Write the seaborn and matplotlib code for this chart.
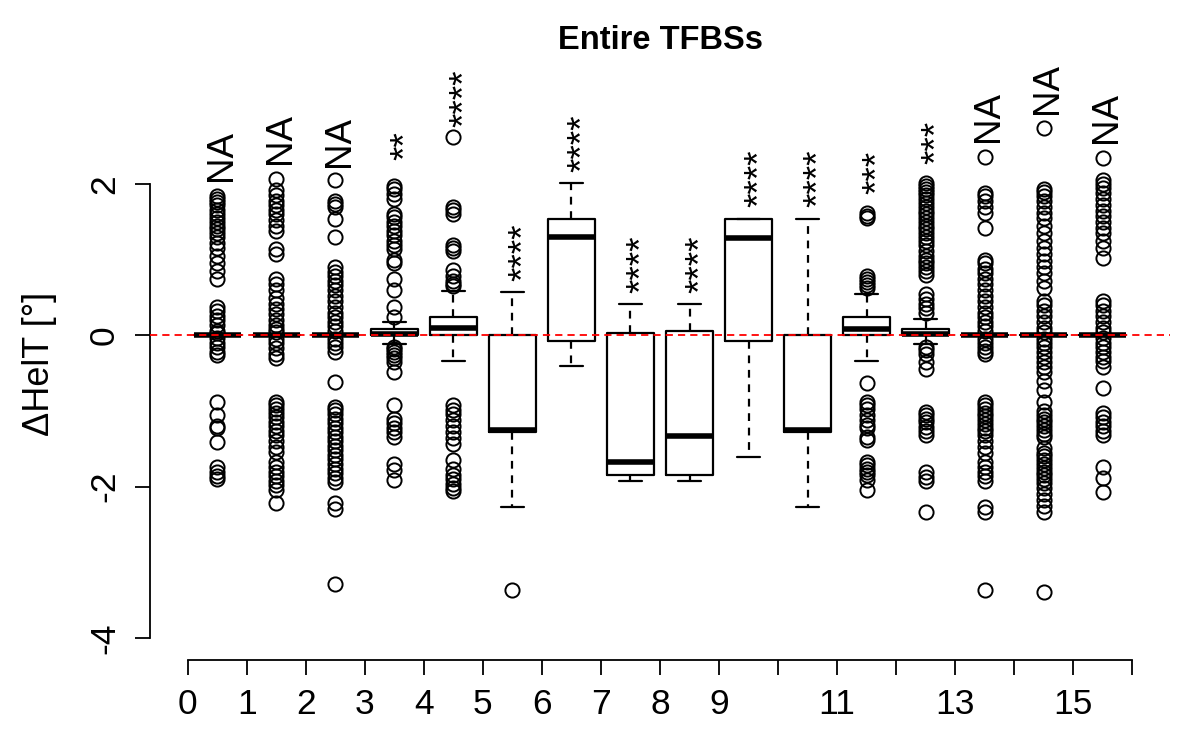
import numpy as np
import pandas as pd
import matplotlib
matplotlib.use("Agg")
import matplotlib.pyplot as plt
import seaborn as sns

# ---------------- data ----------------
groups = list(range(16))

q1     = [0, 0, 0, 0.00, 0.00, -1.28, -0.07, -1.84, -1.84, -0.07, -1.28, 0.00, 0.00, 0, 0, 0]
med    = [0, 0, 0, 0.02, 0.10, -1.25,  1.30, -1.67, -1.33,  1.29, -1.25, 0.08, 0.02, 0, 0, 0]
q3     = [0, 0, 0, 0.09, 0.24,  0.00,  1.54,  0.03,  0.06,  1.54,  0.00, 0.24, 0.09, 0, 0, 0]
whislo = [0, 0, 0, -0.12, -0.335, -2.27, -0.41, -1.92, -1.92, -1.61, -2.27, -0.34, -0.12, 0, 0, 0]
whishi = [0, 0, 0, 0.18, 0.59, 0.57, 2.02, 0.41, 0.41, 1.54, 1.54, 0.55, 0.22, 0, 0, 0]

out_hi = [
    [1.84, 1.80, 1.76, 1.72, 1.66, 1.60, 1.55, 1.50, 1.45, 1.40, 1.35, 1.30, 1.22, 1.15, 1.05,
     0.95, 0.85, 0.75, 0.38, 0.32, 0.26, 0.20, 0.14, 0.06, 0.03],
    [2.07, 1.92, 1.86, 1.78, 1.72, 1.66, 1.60, 1.52, 1.45, 1.38, 1.14, 1.08, 0.74, 0.68, 0.60,
     0.50, 0.42, 0.35, 0.28, 0.20, 0.14, 0.08, 0.04],
    [2.05, 1.78, 1.74, 1.70, 1.54, 1.30, 0.90, 0.84, 0.78, 0.72, 0.66, 0.60, 0.52, 0.45, 0.38,
     0.30, 0.24, 0.18, 0.12, 0.06],
    [1.98, 1.93, 1.87, 1.80, 1.60, 1.56, 1.50, 1.45, 1.38, 1.32, 1.25, 1.20, 1.14, 1.00, 0.95,
     0.75, 0.60, 0.38, 0.24],
    [0.65, 0.68, 0.72, 0.78, 0.86, 1.12, 1.15, 1.19, 1.61, 1.66, 1.70, 2.62],
    [],
    [],
    [],
    [],
    [],
    [],
    [0.62, 0.66, 0.70, 0.74, 0.78, 1.55, 1.58, 1.62],
    [0.30, 0.36, 0.42, 0.48, 0.55, 0.80, 0.85, 0.90, 0.95, 1.00, 1.05, 1.12, 1.20, 1.25, 1.30,
     1.35, 1.40, 1.45, 1.50, 1.55, 1.60, 1.65, 1.70, 1.75, 1.80, 1.85, 1.90, 1.94, 1.98, 2.02],
    [2.36, 1.88, 1.84, 1.78, 1.70, 1.62, 1.42, 1.00, 0.95, 0.88, 0.82, 0.75, 0.68, 0.60, 0.52,
     0.45, 0.38, 0.30, 0.24, 0.18, 0.12, 0.06],
    [2.74, 1.94, 1.90, 1.84, 1.78, 1.70, 1.62, 1.55, 1.45, 1.35, 1.25, 1.15, 1.08, 0.98, 0.90,
     0.82, 0.72, 0.62, 0.45, 0.40, 0.32, 0.25, 0.18, 0.10, 0.05],
    [2.34, 2.05, 2.00, 1.95, 1.88, 1.80, 1.72, 1.65, 1.58, 1.50, 1.42, 1.35, 1.25, 1.15, 1.02,
     0.45, 0.40, 0.32, 0.25, 0.18, 0.10, 0.05],
]

out_lo = [
    [-0.04, -0.10, -0.16, -0.22, -0.26, -0.88, -1.05, -1.20, -1.23, -1.41, -1.74, -1.80, -1.86, -1.90],
    [-0.05, -0.10, -0.17, -0.24, -0.30, -0.88, -0.92, -0.97, -1.02, -1.08, -1.14, -1.20, -1.26,
     -1.32, -1.40, -1.48, -1.54, -1.68, -1.74, -1.80, -1.86, -1.92, -1.98, -2.05, -2.22],
    [-0.05, -0.10, -0.16, -0.22, -0.61, -0.94, -0.99, -1.04, -1.10, -1.16, -1.22, -1.28, -1.34,
     -1.40, -1.46, -1.52, -1.58, -1.64, -1.70, -1.76, -1.82, -1.88, -1.94, -2.22, -2.29, -3.28],
    [-0.15, -0.18, -0.22, -0.26, -0.30, -0.35, -0.48, -0.92, -1.10, -1.16, -1.22, -1.28, -1.34,
     -1.70, -1.78, -1.91],
    [-0.92, -0.98, -1.04, -1.12, -1.20, -1.28, -1.36, -1.44, -1.65, -1.76, -1.84, -1.90, -1.96,
     -2.02, -2.06],
    [-3.37],
    [],
    [],
    [],
    [],
    [],
    [-0.63, -0.88, -0.92, -0.97, -1.05, -1.12, -1.19, -1.23, -1.34, -1.38, -1.67, -1.71, -1.76,
     -1.80, -1.85, -1.91, -2.04],
    [-0.15, -0.19, -0.24, -0.35, -0.44, -1.01, -1.05, -1.10, -1.14, -1.21, -1.27, -1.32, -1.80,
     -1.87, -1.93, -2.33],
    [-0.05, -0.10, -0.15, -0.20, -0.24, -0.88, -0.92, -0.97, -1.02, -1.07, -1.12, -1.17, -1.22,
     -1.27, -1.32, -1.40, -1.48, -1.56, -1.68, -1.74, -1.80, -1.86, -1.92, -2.27, -2.33, -3.37],
    [-0.05, -0.10, -0.16, -0.22, -0.28, -0.35, -0.42, -0.48, -0.60, -0.72, -0.88, -1.00, -1.05,
     -1.10, -1.15, -1.20, -1.25, -1.30, -1.34, -1.49, -1.55, -1.60, -1.65, -1.70, -1.75, -1.80,
     -1.85, -1.90, -1.95, -2.02, -2.10, -2.18, -2.26, -2.33, -3.39],
    [-0.04, -0.10, -0.16, -0.22, -0.28, -0.34, -0.42, -0.70, -1.02, -1.08, -1.14, -1.20, -1.27,
     -1.32, -1.74, -1.89, -2.07],
]

sig_labels = ["NA", "NA", "NA", "**", "****", "****", "****", "****", "****", "****",
              "****", "***", "***", "NA", "NA", "NA"]
sig_y = [2.04, 2.26, 2.22, 2.32, 2.76, 0.72, 2.16, 0.555, 0.555, 1.70, 1.70, 1.87, 2.26,
         2.56, 2.93, 2.54]

xtick_labels = ["0", "1", "2", "3", "4", "5", "6", "7", "8", "9", "", "11", "", "13", "", "15", ""]
ytick_vals = [-4, -2, 0, 2]

title = "Entire TFBSs"
ylabel = "ΔHelT [°]"


# build a sample per group whose box statistics reproduce the values read above
def group_sample(i):
    pre = len(out_lo[i]) + 1
    post = len(out_hi[i]) + 1
    K = max(pre, post) + 4
    if K % 2:
        K += 1
    a = int(1.5 * K) - pre
    b = K
    c = int(1.5 * K) + 1 - post
    return (list(out_lo[i]) + [whislo[i]] + [q1[i]] * a + [med[i]] * b
            + [q3[i]] * c + [whishi[i]] + list(out_hi[i]))


rows = []
for g in groups:
    for v in group_sample(g):
        rows.append((g, v))
df = pd.DataFrame(rows, columns=["group", "value"])

# ---------------- plotting ----------------
sns.set_style("ticks")
plt.rcParams["font.family"] = ["Liberation Sans", "DejaVu Sans"]
plt.rcParams["text.color"] = "black"
plt.rcParams["axes.labelcolor"] = "black"
plt.rcParams["xtick.color"] = "black"
plt.rcParams["ytick.color"] = "black"
plt.rcParams["axes.edgecolor"] = "black"

fig = plt.figure(figsize=(12, 7.5), dpi=100)
ax = fig.add_axes([0.125, 0.12, 0.85, 0.79])

lw = 1.6
sns.boxplot(
    data=df, x="group", y="value", order=groups, ax=ax,
    fill=False, color="black", width=0.8, linewidth=lw, whis=1.5,
    fliersize=10.2,
    flierprops=dict(marker="o", markerfacecolor="none", markeredgecolor="black",
                    markersize=10.2, markeredgewidth=1.4),
    medianprops=dict(linewidth=4.0, color="black", solid_capstyle="butt"),
    whiskerprops=dict(linestyle=(0, (3.5, 3)), color="black", linewidth=lw),
    capprops=dict(color="black", linewidth=lw),
    boxprops=dict(color="black", linewidth=lw),
)

ax.axhline(0, color="#ff0000", linewidth=1.3, linestyle=(0, (4, 2.8)), zorder=10)

for g in groups:
    s = sig_labels[g]
    dx = 2.8 if s == "NA" else 8.8
    ax.annotate(s, xy=(g, sig_y[g]), xytext=(dx, 0), textcoords="offset points",
                rotation=90, ha="center", va="bottom", fontsize=26.5, color="black",
                annotation_clip=False, zorder=11)

ax.set_xlim(-1.14, 16.14)
ax.set_ylim(-4.29, 3.54)

ax.set_xticks(np.arange(17) - 0.5)
ax.set_xticklabels(xtick_labels, fontsize=25.5)
ax.set_yticks(ytick_vals)
ax.set_yticklabels([str(v) for v in ytick_vals], fontsize=25.5, rotation=90, va="center")

ax.tick_params(axis="both", direction="out", length=10.8, width=1.3, color="black",
               labelcolor="black")
ax.tick_params(axis="x", pad=9)
ax.tick_params(axis="y", pad=10)

for side in ["top", "right"]:
    ax.spines[side].set_visible(False)
ax.spines["left"].set_bounds(-4, 2)
ax.spines["bottom"].set_bounds(-0.5, 15.5)
for side in ["left", "bottom"]:
    ax.spines[side].set_linewidth(1.3)
    ax.spines[side].set_color("black")

ax.set_xlabel("")
ax.set_ylabel(ylabel, fontsize=26, color="black")
ax.yaxis.set_label_coords(-0.091, 0.5)
ax.set_title(title, fontsize=23.5, fontweight="bold", pad=13, color="black")

fig.savefig("out.png", dpi=100, facecolor="white")
